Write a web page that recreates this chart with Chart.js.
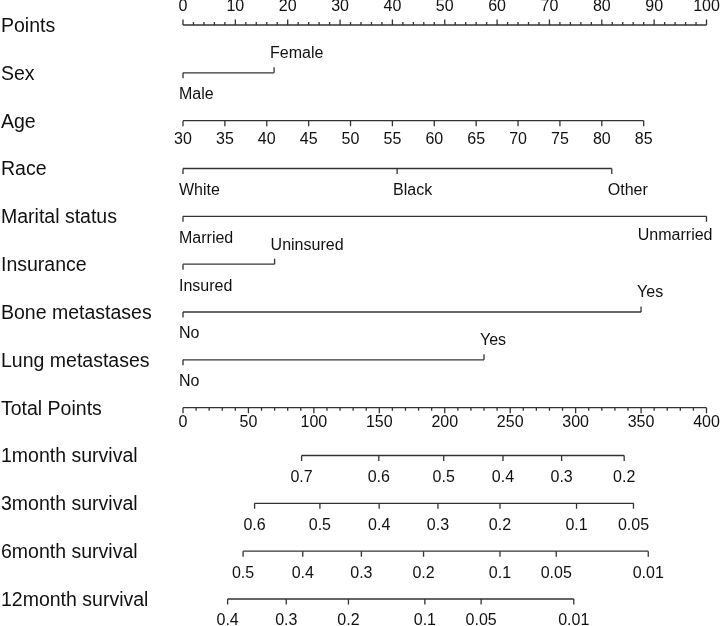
<!DOCTYPE html>
<html>
<head>
<meta charset="utf-8">
<script src="https://cdn.jsdelivr.net/npm/chart.js@4.4.1/dist/chart.umd.min.js"></script>
<style>
  html, body { margin: 0; padding: 0; background: #fff; }
  #wrap { width: 720px; height: 626px; position: relative; }
</style>
</head>
<body>
<div id="wrap"><canvas id="nomo"></canvas></div>
<script>
// Nomogram: points per predictor, total points and survival probabilities

// ─── Data ──────────────────────────────────────────────────────────────────

const ROW_LABELS = ['Points', 'Sex', 'Age', 'Race', 'Marital status', 'Insurance',
    'Bone metastases', 'Lung metastases', 'Total Points',
    '1month survival', '3month survival', '6month survival', '12month survival'];

const POINT_TICKS = [0, 10, 20, 30, 40, 50, 60, 70, 80, 90, 100];

const SEX_LEVELS = ['Male', 'Female'];
const SEX_POINTS = [0, 17.4];

const AGE_TICKS = [30, 35, 40, 45, 50, 55, 60, 65, 70, 75, 80, 85];
const AGE_RANGE_POINTS = [0, 88];          // points at age 30 and at age 85

const RACE_LEVELS = ['White', 'Black', 'Other'];
const RACE_POINTS = [0, 40.9, 81.9];

const MARITAL_LEVELS = ['Married', 'Unmarried'];
const MARITAL_POINTS = [0, 100];

const INSURANCE_LEVELS = ['Insured', 'Uninsured'];
const INSURANCE_POINTS = [0, 17.5];

const BONE_LEVELS = ['No', 'Yes'];
const BONE_POINTS = [0, 87.5];

const LUNG_LEVELS = ['No', 'Yes'];
const LUNG_POINTS = [0, 57.5];

const TOTAL_TICKS = [0, 50, 100, 150, 200, 250, 300, 350, 400];

const SURV_1M_LABELS = ['0.7', '0.6', '0.5', '0.4', '0.3', '0.2'];
const SURV_1M_TOTAL  = [90.6, 149.6, 199.2, 244.5, 289.3, 337.1];

const SURV_3M_LABELS = ['0.6', '0.5', '0.4', '0.3', '0.2', '0.1', '0.05'];
const SURV_3M_TOTAL  = [54.7, 104.6, 149.9, 194.8, 242.2, 300.7, 344.2];

const SURV_6M_LABELS = ['0.5', '0.4', '0.3', '0.2', '0.1', '0.05', '0.01'];
const SURV_6M_TOTAL  = [45.9, 91.5, 136.3, 183.8, 242.2, 285.2, 355.5];

const SURV_12M_LABELS = ['0.4', '0.3', '0.2', '0.1', '0.05', '0.01'];
const SURV_12M_TOTAL  = [34.1, 78.9, 126.4, 184.8, 227.8, 298.6];

// ─── Layout / style ────────────────────────────────────────────────────────

const ROW_PX = 47.83;
const LINE_COLOR = '#333';
const TEXT_COLOR = '#111';
const FONT_FAMILY = '"Liberation Sans", Arial, Helvetica, sans-serif';
const ROW_FONT = '19.5px ' + FONT_FAMILY;
const TICK_FONT = '16px ' + FONT_FAMILY;

const datasets = [];
const texts = [];

function addPath(data, xAxisID) {
    datasets.push({
        data, xAxisID, yAxisID: 'y',
        showLine: true, spanGaps: false, clip: false,
        borderColor: LINE_COLOR, borderWidth: 1.3,
        pointRadius: 0, pointHoverRadius: 0
    });
}

function axisLine(row, from, to, xAxisID) {
    addPath([{ x: from, y: row }, { x: to, y: row }], xAxisID);
}

function tickMarks(row, values, lenPx, up, xAxisID) {
    const dy = (up ? -1 : 1) * lenPx / ROW_PX;
    const d = [];
    values.forEach(v => d.push({ x: v, y: row }, { x: v, y: row + dy }, { x: v, y: null }));
    addPath(d, xAxisID);
}

// numeric axis: centred labels
function numericAxis(row, values, labels, xAxisID, up, labelOffset, minor) {
    axisLine(row, values[0], values[values.length - 1], xAxisID);
    tickMarks(row, values, 5.5, up, xAxisID);
    if (minor) tickMarks(row, minor, 3, up, xAxisID);
    values.forEach((v, i) => texts.push({
        scale: xAxisID, v, row, text: labels[i], align: 'center',
        dy: up ? -labelOffset : labelOffset
    }));
}

// categorical variable: left-aligned level labels, above or below the line
function levelAxis(row, levels, points, above) {
    axisLine(row, points[0], points[points.length - 1], 'x');
    points.forEach((p, i) => {
        tickMarks(row, [p], 5.5, above[i], 'x');
        texts.push({ scale: 'x', v: p, row, text: levels[i], align: 'level',
            dy: above[i] ? -19 : 22 });
    });
}

// ─── Rows ──────────────────────────────────────────────────────────────────

const pointMinor = [];
for (let v = 0; v <= 100; v += 2) if (v % 10) pointMinor.push(v);
numericAxis(0, POINT_TICKS, POINT_TICKS.map(String), 'x', true, 18, pointMinor);

levelAxis(1, SEX_LEVELS, SEX_POINTS, [false, true]);

const agePts = AGE_TICKS.map(a => AGE_RANGE_POINTS[0] +
    (a - AGE_TICKS[0]) / (AGE_TICKS[AGE_TICKS.length - 1] - AGE_TICKS[0]) *
    (AGE_RANGE_POINTS[1] - AGE_RANGE_POINTS[0]));
numericAxis(2, agePts, AGE_TICKS.map(String), 'x', false, 19);

levelAxis(3, RACE_LEVELS, RACE_POINTS, [false, false, false]);
levelAxis(4, MARITAL_LEVELS, MARITAL_POINTS, [false, false]);
levelAxis(5, INSURANCE_LEVELS, INSURANCE_POINTS, [false, true]);
levelAxis(6, BONE_LEVELS, BONE_POINTS, [false, true]);
levelAxis(7, LUNG_LEVELS, LUNG_POINTS, [false, true]);

const totalMinor = [];
for (let v = 0; v <= 400; v += 10) if (v % 50) totalMinor.push(v);
numericAxis(8, TOTAL_TICKS, TOTAL_TICKS.map(String), 'xt', false, 15, totalMinor);

numericAxis(9,  SURV_1M_TOTAL,  SURV_1M_LABELS,  'xt', false, 22);
numericAxis(10, SURV_3M_TOTAL,  SURV_3M_LABELS,  'xt', false, 22);
numericAxis(11, SURV_6M_TOTAL,  SURV_6M_LABELS,  'xt', false, 22);
numericAxis(12, SURV_12M_TOTAL, SURV_12M_LABELS, 'xt', false, 22);

// ─── Text plugin ───────────────────────────────────────────────────────────

const nomoText = {
    id: 'nomoText',
    afterDatasetsDraw(chart) {
        const { ctx, scales } = chart;
        const yS = scales.y;
        ctx.save();
        ctx.fillStyle = TEXT_COLOR;
        ctx.textBaseline = 'middle';

        ctx.font = ROW_FONT;
        ctx.textAlign = 'left';
        ROW_LABELS.forEach((t, r) => ctx.fillText(t, 1, yS.getPixelForValue(r) + 1.5));

        ctx.font = TICK_FONT;
        texts.forEach(t => {
            const px = scales[t.scale].getPixelForValue(t.v);
            const py = yS.getPixelForValue(t.row) + t.dy;
            if (t.align === 'level') {
                const w = ctx.measureText(t.text).width;
                if (px - 4 + w > chart.width - 2) {
                    ctx.textAlign = 'right';
                    ctx.fillText(t.text, px + 6, py - 3);
                } else {
                    ctx.textAlign = 'left';
                    ctx.fillText(t.text, px - 4, py);
                }
            } else {
                ctx.textAlign = 'center';
                ctx.fillText(t.text, px, py);
            }
        });
        ctx.restore();
    }
};

// ─── Chart ─────────────────────────────────────────────────────────────────

new Chart(document.getElementById('nomo'), {
    type: 'scatter',
    data: { datasets },
    options: {
        responsive: true,
        maintainAspectRatio: false,
        animation: false,
        events: [],
        layout: { padding: { left: 183, right: 13.5, top: 1.1, bottom: 3.1 } },
        scales: {
            x:  { type: 'linear', axis: 'x', position: 'bottom', min: 0, max: 100, display: false },
            xt: { type: 'linear', axis: 'x', position: 'bottom', min: 0, max: 400, display: false },
            y:  { type: 'linear', min: -0.5, max: 12.5, reverse: true, display: false }
        },
        plugins: { legend: { display: false }, tooltip: { enabled: false } }
    },
    plugins: [nomoText]
});
</script>
</body>
</html>
